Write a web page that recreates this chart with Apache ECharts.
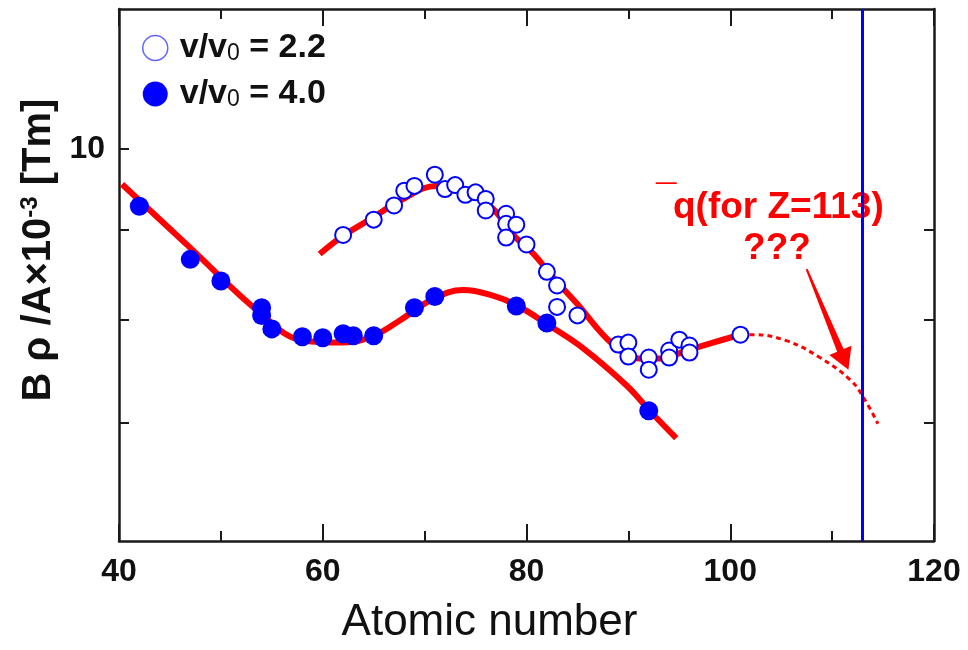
<!DOCTYPE html>
<html><head><meta charset="utf-8">
<script src="https://cdn.jsdelivr.net/npm/echarts@6/dist/echarts.min.js"></script>
<style>html,body{margin:0;padding:0;background:#fff}#c{width:968px;height:650px}</style>
</head><body><div id="c"></div>
<script>
// ---- data ----
const velocityRatios = ['2.2', '4.0'];

// v/v0 = 2.2 (open circles)
const openX = [62, 65, 67, 68, 69, 71, 72, 73, 74, 75, 76, 76, 78, 78, 79, 78, 80, 82, 83, 83, 85, 89, 90, 90, 92, 92, 94, 94, 95, 96, 96, 101];
const openY = [8.94, 9.12, 9.29, 9.47, 9.53, 9.67, 9.49, 9.54, 9.42, 9.45, 9.37, 9.23, 9.19, 9.07, 9.06, 8.91, 8.83, 8.52, 8.37, 8.14, 8.05, 7.75, 7.77, 7.63, 7.62, 7.50, 7.69, 7.62, 7.80, 7.74, 7.67, 7.85];

// v/v0 = 4.0 (filled circles)
const filledX = [42, 47, 50, 54, 54, 55, 58, 60, 62, 63, 65, 69, 71, 79, 82, 92];
const filledY = [9.28, 8.66, 8.42, 8.13, 8.05, 7.91, 7.83, 7.82, 7.86, 7.84, 7.84, 8.13, 8.25, 8.15, 7.97, 7.11];

// fitted curve through v/v0 = 4.0
const fitLowX = [40.3, 47, 53.8, 58.1, 62, 65, 67.6, 70.9, 73.8, 76.7, 79, 82.3, 85.6, 89.8, 92.1, 94.7];
const fitLowY = [9.55, 8.79, 8.08, 7.79, 7.77, 7.84, 8.00, 8.23, 8.32, 8.26, 8.16, 7.94, 7.71, 7.35, 7.11, 6.86];

// fitted curve through v/v0 = 2.2
const fitUpX = [59.7, 62, 65, 67.6, 71.2, 74.1, 76.7, 78.7, 80.7, 82.6, 84.9, 88.5, 91.1, 93.1, 95.7, 98.3, 101];
const fitUpY = [8.72, 8.93, 9.15, 9.35, 9.53, 9.47, 9.25, 8.94, 8.72, 8.46, 8.18, 7.75, 7.61, 7.61, 7.69, 7.77, 7.85];

// extrapolation (dashed)
const extX = [101, 102.3, 105.5, 108.8, 111.8, 113.1, 114.5];
const extY = [7.85, 7.85, 7.79, 7.62, 7.40, 7.23, 6.99];

const zTarget = 113;

// axes
const xMin = 40, xMax = 120, xInterval = 20;
const yMin = 6, yMax = 12;
const yTickValues = [7, 8, 9, 10];
const yRightTickValues = [7, 8, 9];
const yLabelValues = [10];

// annotation arrow (data coords): tail, tip
const arrowTail = [107.5, 8.55];
const arrowTip = [111.6, 7.50];

const zip = (xs, ys) => xs.map((x, i) => [x, ys[i]]);
const seriesNames = velocityRatios.map(r => 'v/v0 = ' + r);

const font = "'Liberation Sans', Arial, Helvetica, sans-serif";
const ink = '#1a1a1a';
const axisLineStyle = { color: ink, width: 2.5 };
const tickStyle = { color: ink, width: 2 };

const chart = echarts.init(document.getElementById('c'), null, { renderer: 'canvas' });

const xAxisBase = {
  type: 'value', min: xMin, max: xMax, interval: xInterval,
  axisLine: { show: true, onZero: false, lineStyle: axisLineStyle },
  axisTick: { show: true, inside: true, length: 17, lineStyle: tickStyle },
  minorTick: { show: true, splitNumber: 2, length: 10, lineStyle: tickStyle },
  splitLine: { show: false }, minorSplitLine: { show: false }
};
const yAxisBase = {
  type: 'log', logBase: 10, min: yMin, max: yMax,
  axisLine: { show: true, onZero: false, lineStyle: axisLineStyle },
  splitLine: { show: false }, minorTick: { show: false }
};

chart.setOption({
  animation: false,
  backgroundColor: '#fff',
  grid: { left: 119, right: 34, top: 9, bottom: 97, containLabel: false },
  legend: {
    orient: 'vertical', left: 137, top: 26,
    itemWidth: 25, itemHeight: 25, itemGap: 12,
    selectedMode: false,
    data: [
      { name: seriesNames[0], icon: 'circle', itemStyle: { color: '#fff', borderColor: '#6464ff', borderWidth: 1.5 } },
      { name: seriesNames[1], icon: 'circle', itemStyle: { color: '#0000ff', borderWidth: 0 } }
    ],
    formatter: name => '{a|v/v}{s|0}{a| = ' + velocityRatios[seriesNames.indexOf(name)] + '}',
    textStyle: {
      padding: [0, 0, 0, 7],
      rich: {
        a: { fontSize: 34, fontWeight: 'bold', color: '#111', fontFamily: font },
        s: { fontSize: 23, fontWeight: 'normal', color: '#111', fontFamily: font, verticalAlign: 'bottom' }
      }
    }
  },
  xAxis: [
    Object.assign({}, xAxisBase, {
      position: 'bottom',
      axisLabel: { fontSize: 32, fontWeight: 'bold', color: '#111', margin: 15, fontFamily: font },
      name: 'Atomic number', nameLocation: 'middle', nameGap: 60,
      nameTextStyle: { fontSize: 44, color: '#111', fontFamily: font, padding: [0, 74, 0, 0] }
    }),
    Object.assign({}, xAxisBase, { position: 'top', axisLabel: { show: false } })
  ],
  yAxis: [
    Object.assign({}, yAxisBase, {
      position: 'left',
      axisTick: { show: true, inside: true, length: 10, lineStyle: tickStyle, customValues: yTickValues },
      axisLabel: { customValues: yLabelValues, fontSize: 32, fontWeight: 'bold', color: '#111', margin: 14, fontFamily: font },
      name: '{a|B ρ /A×10}{s|-3}{a| [Tm]}', nameLocation: 'middle', nameGap: 41,
      nameTextStyle: {
        padding: [0, 0, 0, 50],
        rich: {
          a: { fontSize: 40, fontWeight: 'bold', color: '#111', fontFamily: font },
          s: { fontSize: 24, fontWeight: 'bold', color: '#111', fontFamily: font, verticalAlign: 'top' }
        }
      }
    }),
    Object.assign({}, yAxisBase, {
      position: 'right',
      axisTick: { show: true, inside: true, length: 10, lineStyle: tickStyle, customValues: yRightTickValues },
      axisLabel: { show: false }
    })
  ],
  series: [
    {
      name: 'fit 4.0', type: 'line', data: zip(fitLowX, fitLowY), smooth: 0.4, showSymbol: false, symbol: 'none',
      lineStyle: { color: '#ff0000', width: 6 }, z: 2, silent: true
    },
    {
      name: 'fit 2.2', type: 'line', data: zip(fitUpX, fitUpY), smooth: 0.4, showSymbol: false, symbol: 'none',
      lineStyle: { color: '#ff0000', width: 6 }, z: 2, silent: true
    },
    {
      name: 'extrapolation', type: 'line', data: zip(extX, extY), smooth: 0.4, showSymbol: false, symbol: 'none',
      lineStyle: { color: '#ff0000', width: 3, type: [5, 4] }, z: 4, silent: true,
      markLine: {
        silent: true, symbol: ['none', 'none'], label: { show: false },
        lineStyle: { color: '#0000ff', width: 3, type: 'solid' },
        data: [{ xAxis: zTarget }]
      }
    },
    {
      name: seriesNames[0], type: 'scatter', data: zip(openX, openY),
      symbol: 'circle', symbolSize: 16,
      itemStyle: { color: '#fff', borderColor: '#0000ff', borderWidth: 2, opacity: 1 }, z: 5
    },
    {
      name: seriesNames[1], type: 'scatter', data: zip(filledX, filledY),
      symbol: 'circle', symbolSize: 19,
      itemStyle: { color: '#0000ff', borderWidth: 0, opacity: 1 }, z: 6
    }
  ]
});

// annotation: arrow + red text (arrow placed from data coords via the chart scale)
const pT = chart.convertToPixel({ xAxisIndex: 0, yAxisIndex: 0 }, arrowTail);
const pH = chart.convertToPixel({ xAxisIndex: 0, yAxisIndex: 0 }, arrowTip);
const dx = pH[0] - pT[0], dy = pH[1] - pT[1];
const L = Math.hypot(dx, dy);
const ux = dx / L, uy = dy / L, nx = -uy, ny = ux;
const headLen = 21, headHalf = 12, tailHalf = 1, neckHalf = 3.5;
const bx = pH[0] - ux * headLen, by = pH[1] - uy * headLen;
const arrowPts = [
  [pT[0] + nx * tailHalf, pT[1] + ny * tailHalf],
  [bx + nx * neckHalf, by + ny * neckHalf],
  [bx + nx * headHalf, by + ny * headHalf],
  [pH[0], pH[1]],
  [bx - nx * headHalf, by - ny * headHalf],
  [bx - nx * neckHalf, by - ny * neckHalf],
  [pT[0] - nx * tailHalf, pT[1] - ny * tailHalf]
];

chart.setOption({
  graphic: [
    { type: 'polygon', id: 'arrow', z: 1, silent: true, shape: { points: arrowPts }, style: { fill: '#ff0000' } },
    { type: 'text', id: 'qlabel', z: 1, silent: true, x: 673, y: 208,
      style: { text: 'q(for Z=113)', fill: '#ff0000', font: 'bold 37px ' + font, align: 'left', verticalAlign: 'middle' } },
    { type: 'text', id: 'qbar', z: 1, silent: true, x: 656, y: 181,
      style: { text: '¯', fill: '#ff0000', font: 'bold 37px ' + font, align: 'left', verticalAlign: 'top' } },
    { type: 'text', id: 'qmarks', z: 1, silent: true, x: 777, y: 249,
      style: { text: '???', fill: '#ff0000', font: 'bold 37px ' + font, align: 'center', verticalAlign: 'middle' } }
  ]
});
</script>
</body></html>
